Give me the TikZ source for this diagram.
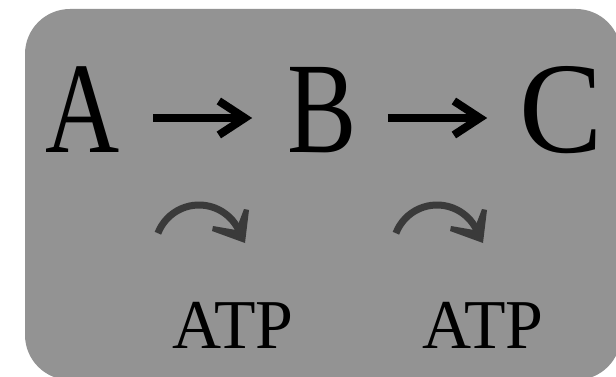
\documentclass[tikz,border=0pt]{standalone}
\usepackage{fontspec}
\setmainfont{Liberation Serif}
\usetikzlibrary{arrows.meta}
\definecolor{boxgray}{RGB}{147,147,147}
\definecolor{curvegray}{RGB}{58,58,58}
\begin{document}
\begin{tikzpicture}[x=1pt,y=-1pt,
  big/.style={font=\fontsize{130}{130}\selectfont, inner sep=0pt, anchor=base},
  small/.style={font=\fontsize{70}{70}\selectfont, inner sep=0pt, anchor=base, xscale=0.97},
  bigarrow/.style={line width=8pt, -{Straight Barb[length=26pt,width=34pt]}},
  atparrow/.pic={
    \draw[curvegray, line width=7pt] (-159:44) arc[start angle=-159, end angle=-25, radius=44];
    \fill[curvegray] (46,-6) -- (13,-18) -- (14,-23) -- (37,-19) -- (45,-40) -- (50,-39) -- cycle;
  }]
\useasboundingbox (0,0) rectangle (616,377);
\fill[boxgray, rounded corners=45pt] (25,9) rectangle (621,380);
\node[big, xscale=0.79] (A) at (83,153) {A};
\node[big, xscale=0.80] (B) at (322,153) {B};
\node[big, xscale=0.96] (C) at (561,153) {C};
\draw[bigarrow, shorten <=33pt, shorten >=35pt] ([yshift=35pt]A.base east) -- ([yshift=35pt]B.base west);
\draw[bigarrow, shorten <=31pt, shorten >=32pt] ([yshift=35pt]B.base east) -- ([yshift=35pt]C.base west);
\pic at (199,249) {atparrow};
\pic at (437,249) {atparrow};
\node[small] (atp1) at (233,348) {ATP};
\node[small] (atp2) at (483,348) {ATP};
\end{tikzpicture}
\end{document}
